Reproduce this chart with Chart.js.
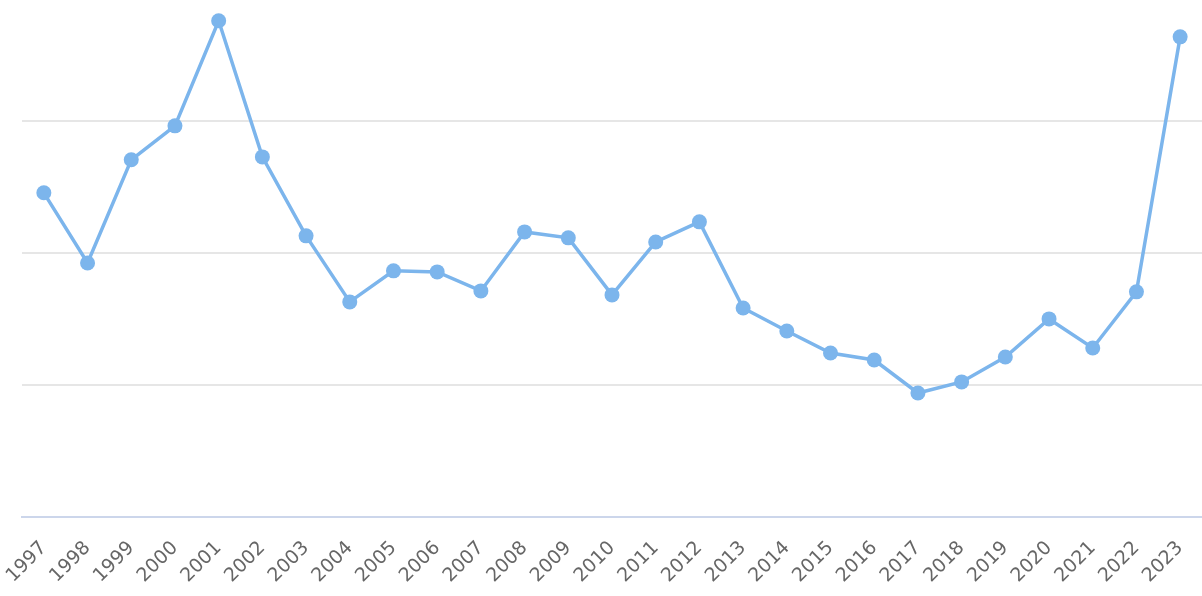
<!DOCTYPE html>
<html>
<head>
<meta charset="utf-8">
<script src="https://cdn.jsdelivr.net/npm/chart.js@4"></script>
<style>
  html, body { margin: 0; padding: 0; background: #fff; overflow: hidden; }
</style>
</head>
<body>
<canvas id="chartLine" width="1202" height="596"></canvas>
<script>
// categories and series (gridline step = 1 unit)
var years = ['1997', '1998', '1999', '2000', '2001', '2002', '2003', '2004', '2005',
  '2006', '2007', '2008', '2009', '2010', '2011', '2012', '2013', '2014', '2015',
  '2016', '2017', '2018', '2019', '2020', '2021', '2022', '2023'];

var values = [2.455, 1.924, 2.705, 2.962, 3.758, 2.727, 2.129, 1.629, 1.864,
  1.856, 1.712, 2.159, 2.114, 1.682, 2.083, 2.235, 1.583, 1.409, 1.242,
  1.189, 0.939, 1.023, 1.212, 1.500, 1.280, 1.705, 3.636];

var yTicks = [0, 1, 2, 3];

var lineColor = '#7cb5ec';

var config = {
  type: 'line',
  data: {
    labels: years,
    datasets: [{
      data: values,
      borderColor: lineColor,
      backgroundColor: lineColor,
      borderWidth: 3.5,
      pointRadius: 7.5,
      pointBorderWidth: 0,
      pointBackgroundColor: lineColor,
      tension: 0,
      fill: false,
      clip: false
    }]
  },
  options: {
    responsive: false,
    animation: false,
    layout: { autoPadding: false, padding: { left: 22, right: 0, top: 2, bottom: 0 } },
    plugins: { legend: { display: false }, tooltip: { enabled: false } },
    scales: {
      x: {
        offset: true,
        afterFit: function(scale) {
          // fixed band for the slanted year labels
          scale.height = 79;
          scale.paddingLeft = 0;
          scale.paddingRight = 0;
        },
        grid: { display: false, drawTicks: false },
        border: { display: true, color: '#ccd6eb', width: 2 },
        ticks: {
          autoSkip: false,
          maxRotation: 45,
          minRotation: 45,
          color: '#666666',
          padding: 20,
          font: { family: 'DejaVu Sans', size: 19 }
        }
      },
      y: {
        min: 0,
        max: 3.9,
        afterFit: function(scale) {
          scale.width = 0;
          scale.paddingTop = 0;
          scale.paddingBottom = 0;
        },
        afterBuildTicks: function(axis) {
          axis.ticks = yTicks.map(function(v) { return { value: v }; });
        },
        border: { display: false },
        grid: {
          drawTicks: false,
          lineWidth: 2,
          color: function(ctx) { return ctx.tick && ctx.tick.value === 0 ? 'rgba(0,0,0,0)' : '#e6e6e6'; }
        },
        ticks: { display: false }
      }
    }
  }
};

window.chartLine = new Chart(document.getElementById('chartLine').getContext('2d'), config);
</script>
</body>
</html>
